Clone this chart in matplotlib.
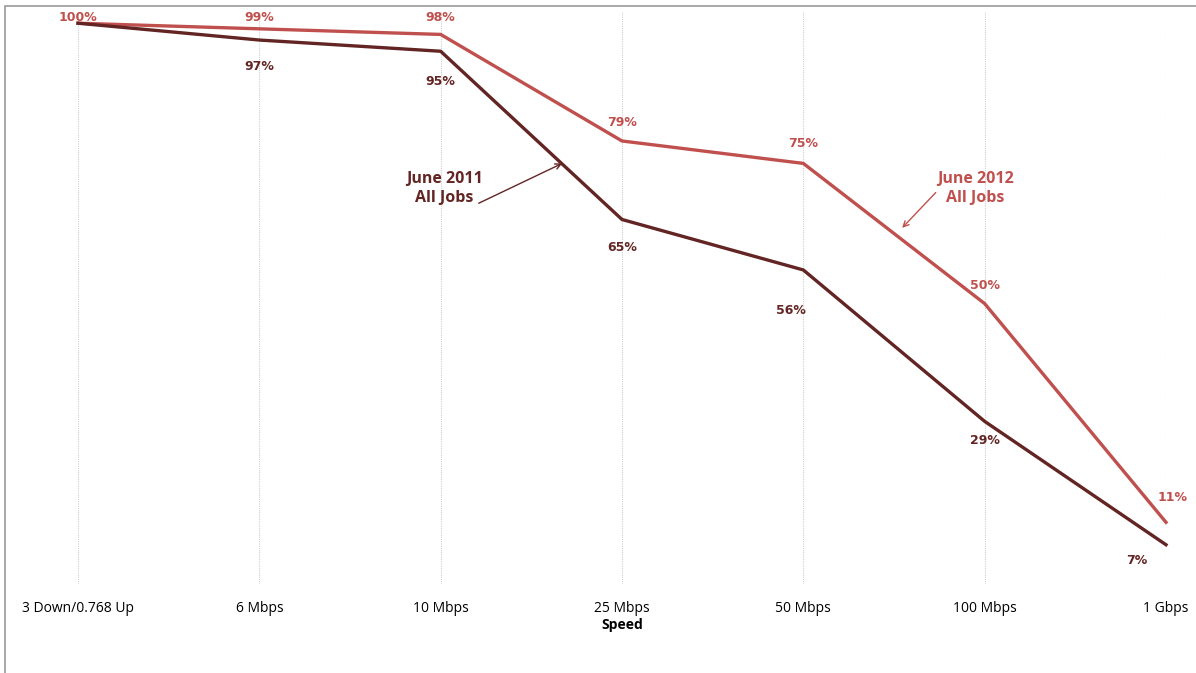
import matplotlib.pyplot as plt
from matplotlib.patches import Rectangle

# data
speeds = ['3 Down/0.768 Up', '6 Mbps', '10 Mbps', '25 Mbps', '50 Mbps', '100 Mbps', '1 Gbps']
june_2012 = [100, 99, 98, 79, 75, 50, 11]
june_2011 = [100, 97, 95, 65, 56, 29, 7]

c2012 = '#C0504D'
c2011 = '#632523'

# label offsets in points (dx, dy); None = no label
off_2012 = [(0, 4), (0, 8), (0, 12), (0, 13), (0, 14), (0, 13), (5, 18)]
off_2011 = [None, (0, -19), (0, -22), (0, -20), (-9, -29), (0, -14), (-21, -11)]

fig = plt.figure(figsize=(11.96, 6.73), dpi=100)
fig.patches.append(Rectangle((5 / 1196, -0.1), 1.2, 1 - 6 / 673 + 0.1, transform=fig.transFigure,
                             fill=False, edgecolor='#9a9a9a', linewidth=1.2))

ax = fig.add_axes([78 / 1196, 1 - 584 / 673, 1088 / 1196, (584 - 12) / 673])
x = list(range(len(speeds)))

for xi in x:
    ax.axvline(xi, color='#cfcfcf', linestyle=(0, (1, 1)), linewidth=0.8, zorder=0)

ax.plot(x, june_2012, color=c2012, linewidth=2.4, clip_on=False, zorder=3)
ax.plot(x, june_2011, color=c2011, linewidth=2.4, clip_on=False, zorder=3)

for xi, v, off in zip(x, june_2012, off_2012):
    ax.annotate(f'{v}%', (xi, v), xytext=off, textcoords='offset points', ha='center', va='center',
                color=c2012, fontsize=9, fontweight='bold', family='DejaVu Sans')
for xi, v, off in zip(x, june_2011, off_2011):
    if off is None:
        continue
    ax.annotate(f'{v}%', (xi, v), xytext=off, textcoords='offset points', ha='center', va='center',
                color=c2011, fontsize=9, fontweight='bold', family='DejaVu Sans')

# series callouts
ax.text(2.02, 70.6, 'June 2011\nAll Jobs', ha='center', va='center', color=c2011, fontsize=11.5,
        fontweight='bold', family='Open Sans', linespacing=1.25)
ax.annotate('', xy=(2.67, 75.0), xytext=(2.21, 67.9),
            arrowprops=dict(arrowstyle='->', color=c2011, lw=1.0, shrinkA=0, shrinkB=0))
ax.text(4.95, 70.6, 'June 2012\nAll Jobs', ha='center', va='center', color=c2012, fontsize=11.5,
        fontweight='bold', family='Open Sans', linespacing=1.25)
ax.annotate('', xy=(4.545, 63.5), xytext=(4.73, 69.8),
            arrowprops=dict(arrowstyle='->', color=c2012, lw=1.0, shrinkA=0, shrinkB=0))

ax.set_xlim(0, 6)
ax.set_ylim(0, 102)
ax.set_xticks(x)
ax.set_xticklabels(speeds, fontsize=10, family='Open Sans')
ax.tick_params(axis='x', length=0, pad=12)
ax.set_yticks([])
ax.set_xlabel('Speed', fontsize=10, fontweight='bold', family='Open Sans', labelpad=2)
for s in ax.spines.values():
    s.set_visible(False)

plt.savefig('out.png', dpi=100)
